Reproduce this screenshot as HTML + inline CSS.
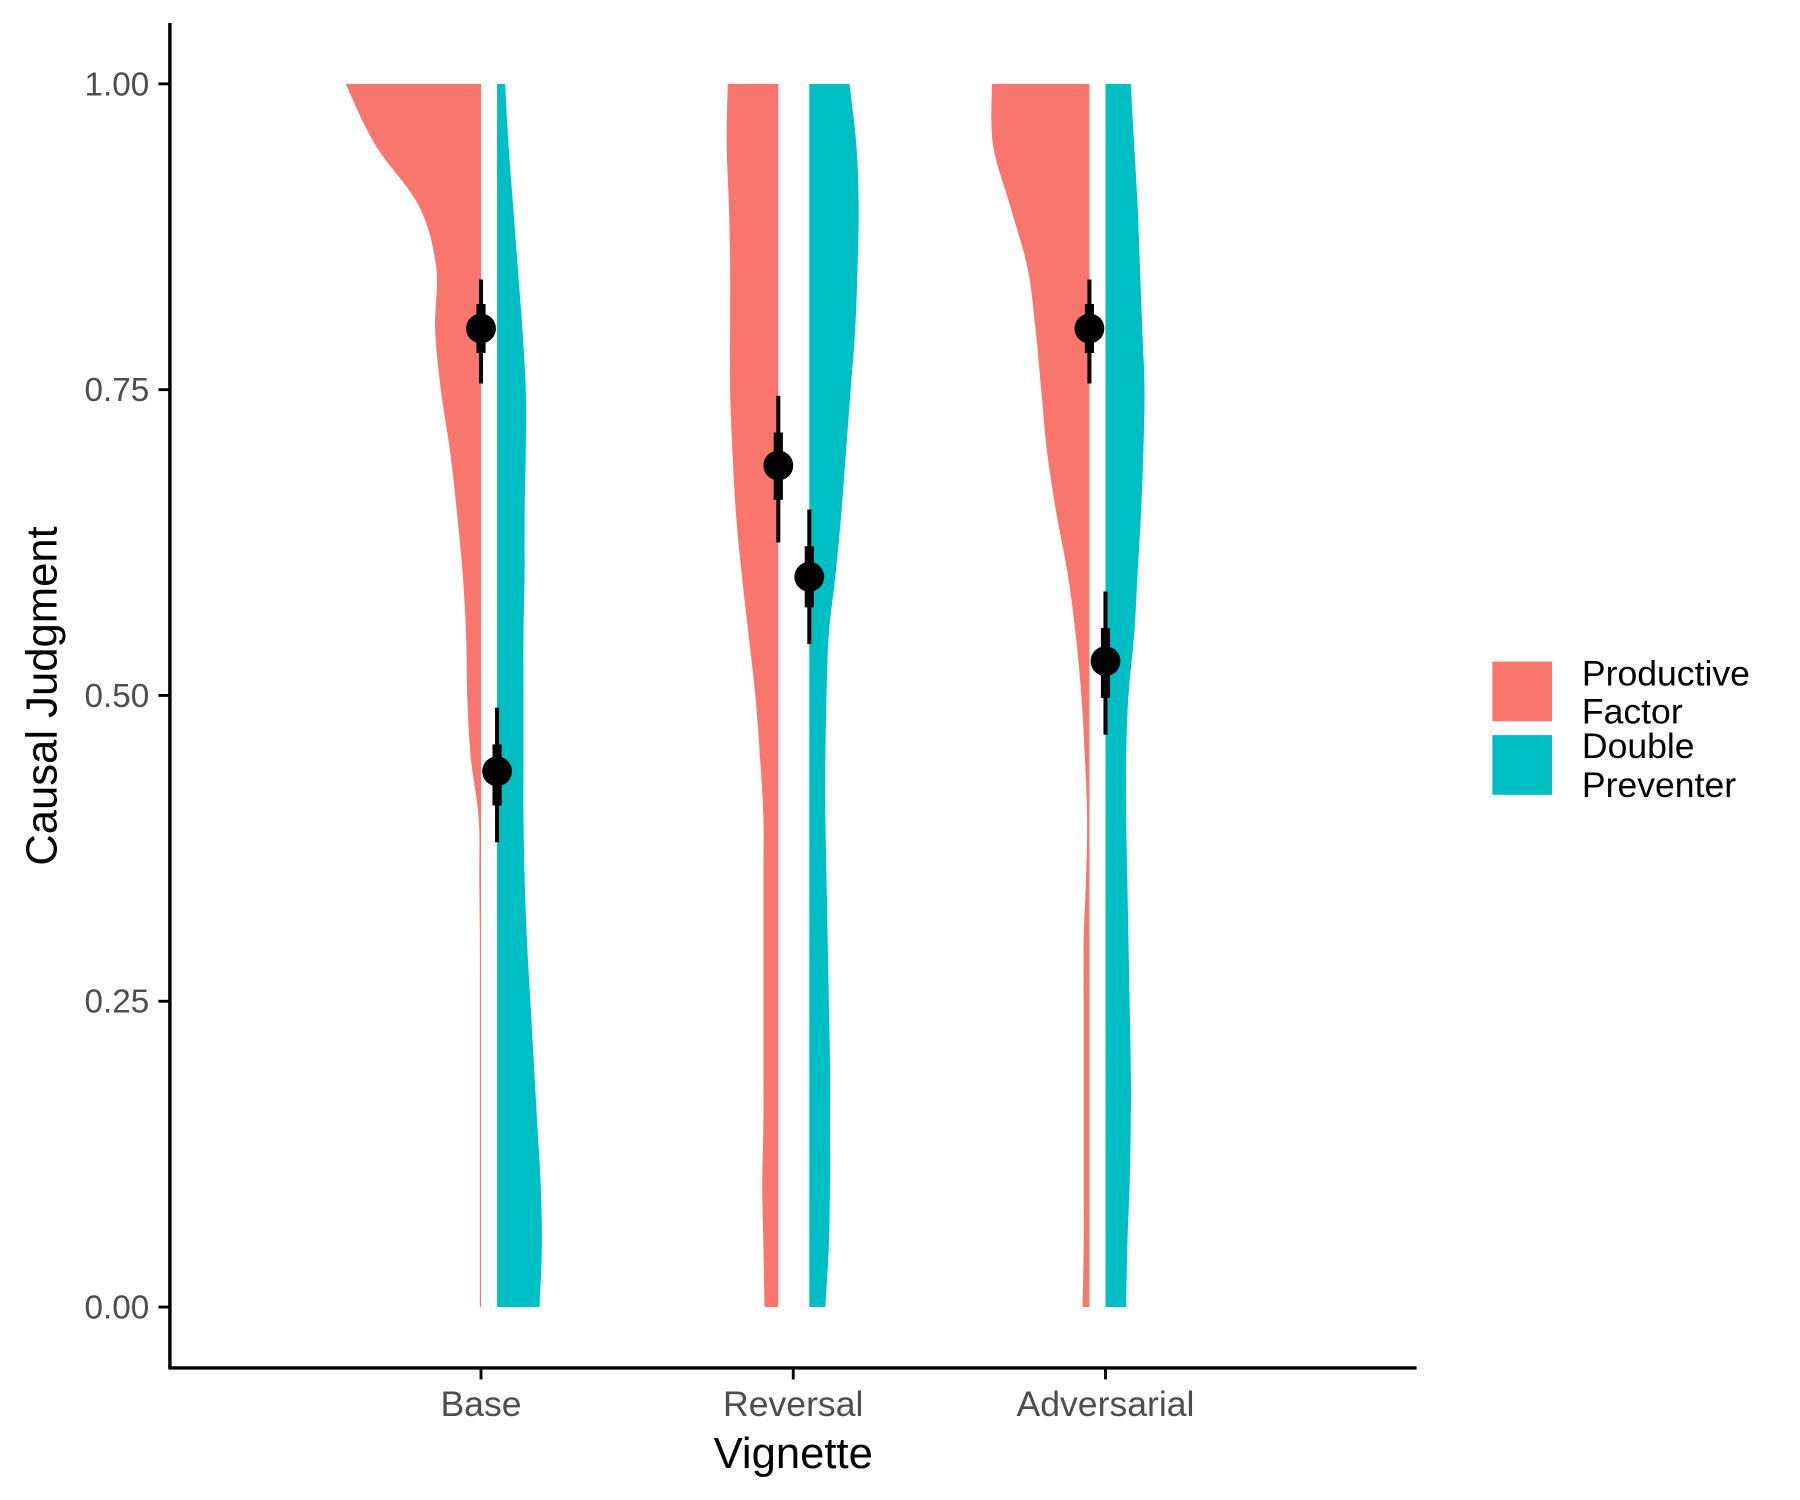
<!DOCTYPE html>
<html><head><meta charset="utf-8"><style>
html,body{margin:0;padding:0;background:#fff}
svg{display:block;font-family:"Liberation Sans",Arial,sans-serif}
</style></head><body>
<svg id="chart" width="1800" height="1500" viewBox="0 0 1568 1306" preserveAspectRatio="none" xmlns="http://www.w3.org/2000/svg">
<g id="violins"></g>
<g id="points"></g>
<g id="axes"></g>
<text transform="translate(49,606) rotate(-90)" text-anchor="middle" font-size="38" fill="#000">Causal Judgment</text>
<text x="691" y="1278" text-anchor="middle" font-size="38" fill="#000">Vignette</text>
<g>
<rect x="1300" y="576" width="52" height="52" fill="#F8766D"/>
<rect x="1300" y="640" width="52" height="52" fill="#00BFC4"/>
<text font-size="31" fill="#000"><tspan x="1378" y="597">Productive</tspan><tspan x="1378" y="630">Factor</tspan></text>
<text font-size="31" fill="#000"><tspan x="1378" y="660">Double</tspan><tspan x="1378" y="694">Preventer</tspan></text>
</g>
</svg>
<script>
const categories = ["Base","Reversal","Adversarial"];
const groups = ["Productive Factor","Double Preventer"];
const yTicks = [0,0.25,0.5,0.75,1];
const yTickLabels = ["0.00","0.25","0.50","0.75","1.00"];
const densityY = [1,0.95,0.9,0.85,0.8,0.75,0.7,0.65,0.6,0.55,0.5,0.45,0.4,0.35,0.3,0.25,0.2,0.15,0.1,0.05,0];
const baseProd = [118,92,54,39,40,35,27,21,16,13,12,9,2,1.5,1,1,1,1,1,1,1];
const baseDouble = [7,10,14,18,22,25,25,24,24,23,23,23,23,24,26,29,32,35,38,39,37];
const revProd = [44,45,43,42,42,42,40,37,32,26,20,16,13,13,13,13,13,13,14,13,12];
const revDouble = [35,41,43,42,40,36,32,28,23,17,15,14,14,15,16,17,18,18,18,17,14];
const advProd = [85,84,69,54,47,42,37,29,19,12,7,4,2,3,5,5,5,5,5,5,6];
const advDouble = [22,25,28,30,32,34,33,31,28,25,20,18,18,19,20,21,22,22,21,19,18];
const means = [[0.80,0.438],[0.688,0.597],[0.80,0.528]];
const innerLo = [[0.78,0.41],[0.66,0.572],[0.78,0.498]];
const innerHi = [[0.82,0.46],[0.715,0.622],[0.82,0.555]];
const outerLo = [[0.755,0.38],[0.625,0.542],[0.755,0.468]];
const outerHi = [[0.84,0.49],[0.745,0.652],[0.84,0.585]];

const NS="http://www.w3.org/2000/svg";
const yScale = v => 1138 - v*(1138-73);
const xCat = i => 419 + i*272;
const dodge = [[0,14],[-13,14],[-14,0]];
const colors = ["#F8766D","#00BFC4"];
const dens = [[baseProd,baseDouble],[revProd,revDouble],[advProd,advDouble]];
function mk(tag, parent, attrs){const e=document.createElementNS(NS,tag);for(const k in attrs)e.setAttribute(k,attrs[k]);parent.appendChild(e);return e;}
function smooth(P){
  let d="M"+P[0][0]+","+P[0][1];
  for(let i=0;i<P.length-1;i++){
    const p0=P[Math.max(i-1,0)],p1=P[i],p2=P[i+1],p3=P[Math.min(i+2,P.length-1)];
    const c1=[p1[0]+(p2[0]-p0[0])/6,p1[1]+(p2[1]-p0[1])/6];
    const c2=[p2[0]-(p3[0]-p1[0])/6,p2[1]-(p3[1]-p1[1])/6];
    d+=" C"+c1.join(",")+" "+c2.join(",")+" "+p2.join(",");
  }
  return d;
}
const gV=document.getElementById('violins'), gP=document.getElementById('points'), gA=document.getElementById('axes');
categories.forEach((c,i)=>{
  groups.forEach((g,j)=>{
    const x0 = xCat(i)+dodge[i][j];
    const dir = j===0?-1:1;
    const P = densityY.map((y,k)=>[x0+dir*dens[i][j][k], yScale(y)]);
    const d = "M"+x0+","+yScale(1)+" L"+smooth(P).slice(1)+" L"+x0+","+yScale(0)+" Z";
    const p = mk('path', gV, {d:d, fill:colors[j]});
    
    
    const g2 = mk('g', gP, {});
    
    
    mk('line', g2, {x1:x0,x2:x0,y1:yScale(outerLo[i][j]),y2:yScale(outerHi[i][j]),stroke:'#000','stroke-width':3.5});
    mk('line', g2, {x1:x0,x2:x0,y1:yScale(innerLo[i][j]),y2:yScale(innerHi[i][j]),stroke:'#000','stroke-width':8});
    mk('circle', g2, {cx:x0,cy:yScale(means[i][j]),r:13,fill:'#000'});
  });
});
mk('line', gA, {x1:148,x2:148,y1:20,y2:1192,stroke:'#000','stroke-width':3});
mk('line', gA, {x1:147,x2:1234,y1:1191,y2:1191,stroke:'#000','stroke-width':3});
yTicks.forEach((t,k)=>{
  mk('line', gA, {x1:138,x2:148,y1:yScale(t),y2:yScale(t),stroke:'#000','stroke-width':2.5});
  const tx=mk('text', gA, {x:130,y:yScale(t)+10,'text-anchor':'end','font-size':29,fill:'#4d4d4d'});
  tx.textContent=yTickLabels[k];
  
  
});
categories.forEach((c,i)=>{
  mk('line', gA, {x1:xCat(i),x2:xCat(i),y1:1191,y2:1201,stroke:'#000','stroke-width':2.5});
  const tx=mk('text', gA, {x:xCat(i),y:1233,'text-anchor':'middle','font-size':31,fill:'#4d4d4d'});
  tx.textContent=c;
  
  
});
</script>
</body></html>
